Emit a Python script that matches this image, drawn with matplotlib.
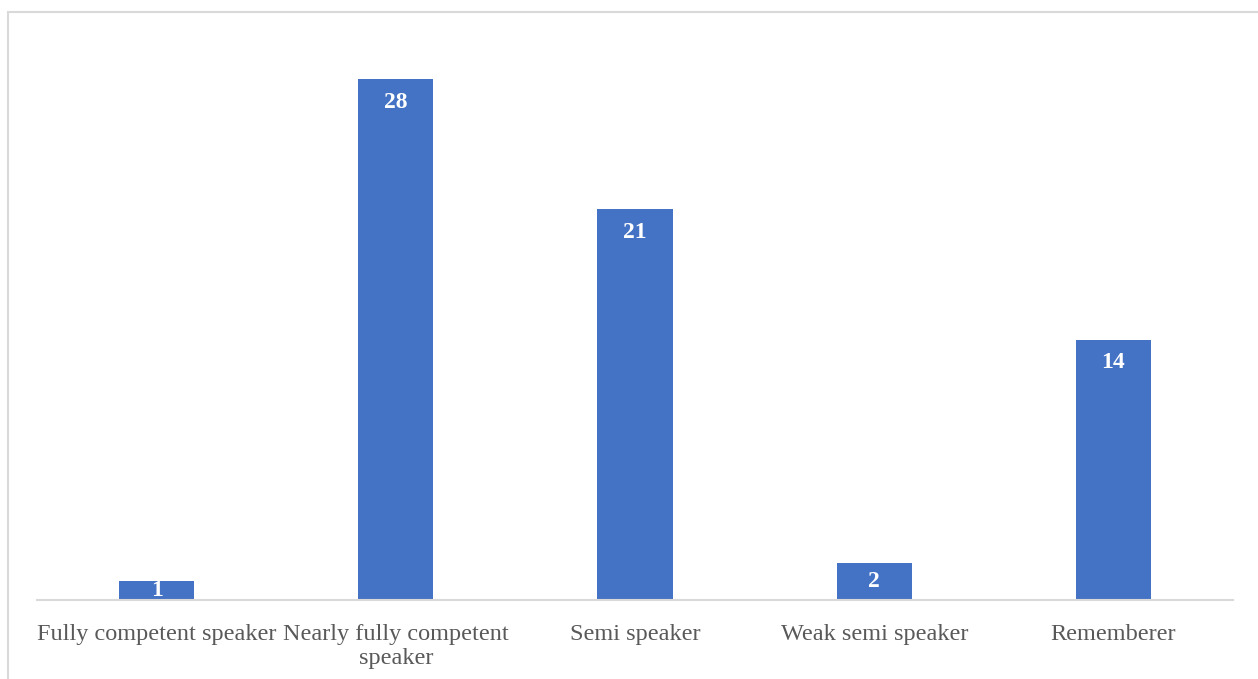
import matplotlib
matplotlib.use("Agg")
import matplotlib.pyplot as plt
from matplotlib.patches import Rectangle

categories = ["Fully competent speaker", "Nearly fully competent\nspeaker", "Semi speaker",
              "Weak semi speaker", "Rememberer"]
values = [1, 28, 21, 2, 14]

plt.rcParams['font.family'] = ['Liberation Serif', 'DejaVu Serif']

W, H, DPI = 1258, 679, 100
fig = plt.figure(figsize=(W / DPI, H / DPI), dpi=DPI)

# outer chart border (extends beyond right and bottom edges)
fig.patches.append(Rectangle((8 / W, -0.2), 1.2, (H - 12) / H + 0.2, transform=fig.transFigure,
                             fill=False, edgecolor='#D9D9D9', linewidth=1.5))

ax = fig.add_axes([37 / W, (H - 600) / H, (1233 - 37) / W, (600 - 42) / H])
x = list(range(len(categories)))
bars = ax.bar(x, values, width=0.314, color='#4472C4', zorder=2)
ax.set_xlim(-0.5, len(categories) - 0.5)
ax.set_ylim(0, 30)

for s in ['top', 'right', 'left']:
    ax.spines[s].set_visible(False)
ax.spines['bottom'].set_color('#D9D9D9')
ax.spines['bottom'].set_linewidth(1.5)
ax.set_yticks([])
ax.set_xticks(x)
ax.set_xticklabels(categories, fontsize=17.5, color='#595959', linespacing=1.2)
ax.tick_params(axis='x', length=0, pad=17)

# inside-end labels; small bars keep the label centred in the bar
for xi, v in zip(x, values):
    ypos = max(v - 1.25, v / 2)
    ax.text(xi, ypos, str(v), ha='center', va='center', color='white',
            fontweight='bold', fontsize=17, zorder=5, clip_on=False)

fig.savefig('out.png', dpi=DPI)
